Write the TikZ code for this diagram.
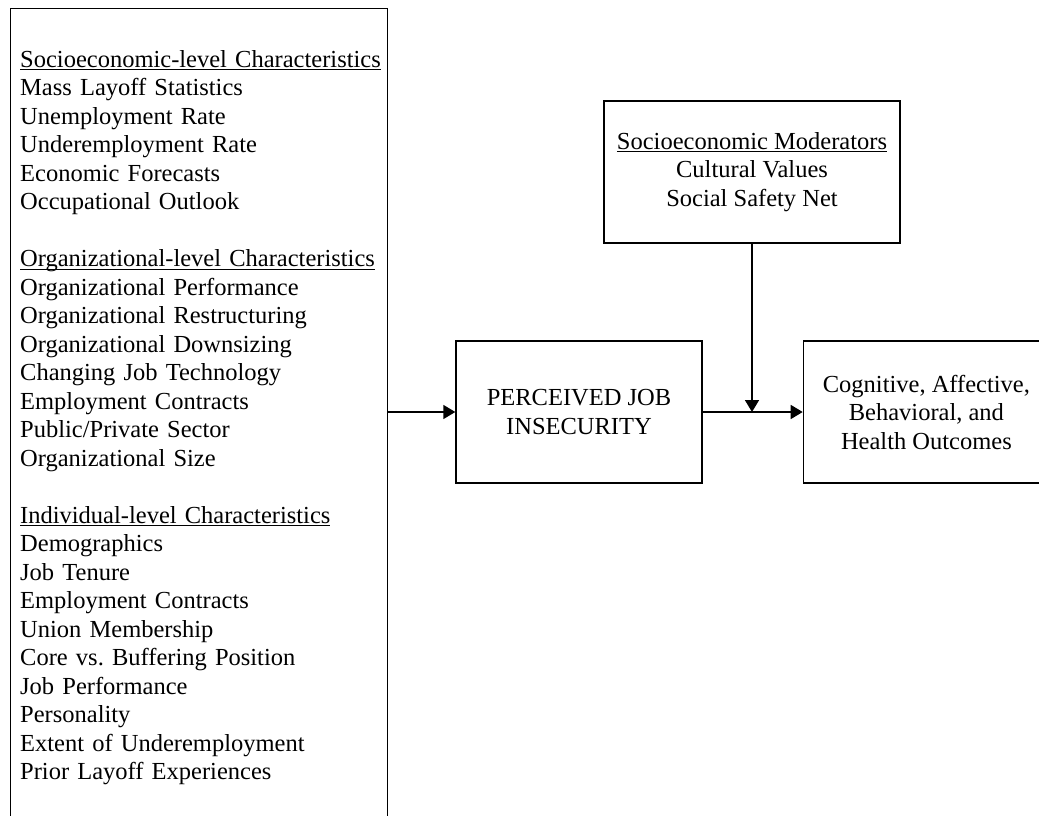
\documentclass[tikz,border=0pt]{standalone}
\usepackage{fontspec}
\setmainfont{Liberation Serif}
\usetikzlibrary{arrows.meta,positioning}
\newcommand{\ulhead}[1]{\leavevmode\setbox0\hbox{#1}\rlap{\rule[-3pt]{\wd0}{1pt}}\box0}

\begin{document}
\begin{tikzpicture}[x=1pt,y=-1pt,
      box/.style={draw,line width=1.4pt,minimum width=246pt,minimum height=142pt,
                  align=center,inner sep=0pt,font=\fontsize{24.5}{28.5}\selectfont},
      ar/.style={-{Triangle[length=12pt,width=14pt]},line width=1.6pt}]
    \useasboundingbox (0,0) rectangle (1039,815);
    \clip (0,0) rectangle (1039,815);
    \node[draw,line width=1.4pt,minimum width=377pt,minimum height=860pt,
          inner sep=0pt,anchor=north west] (frame) at (10,8) {};
    \node[anchor=base west,text width=360pt,align=left,inner sep=0pt,
          font=\fontsize{24.5}{28.5}\selectfont] (factors) at (20,67) {%
      \ulhead{Socioeconomic-level Characteristics}\\
      Mass Layoff Statistics\\
      Unemployment Rate\\
      Underemployment Rate\\
      Economic Forecasts\\
      Occupational Outlook\\[28.5pt]
      \ulhead{Organizational-level Characteristics}\\
      Organizational Performance\\
      Organizational Restructuring\\
      Organizational Downsizing\\
      Changing Job Technology\\
      Employment Contracts\\
      Public/Private Sector\\
      Organizational Size\\[28.5pt]
      \ulhead{Individual-level Characteristics}\\
      Demographics\\
      Job Tenure\\
      Employment Contracts\\
      Union Membership\\
      Core vs.\ Buffering Position\\
      Job Performance\\
      Personality\\
      Extent of Underemployment\\
      Prior Layoff Experiences};
    \node[box] (pji) at (579,412) {PERCEIVED JOB\\INSECURITY};
    \node[box,right=100pt of pji] (out) {Cognitive, Affective,\\Behavioral, and\\Health Outcomes};
    \node[box,minimum width=296pt] (mod) at (752,172) {\ulhead{Socioeconomic Moderators}\\Cultural Values\\Social Safety Net};
    \draw[ar] (frame.east |- pji.west) -- (pji.west);
    \draw[ar] (pji.east) -- (out.west);
    \draw[ar] (mod.south) -- (mod.south |- pji.east);
  \end{tikzpicture}
\end{document}
